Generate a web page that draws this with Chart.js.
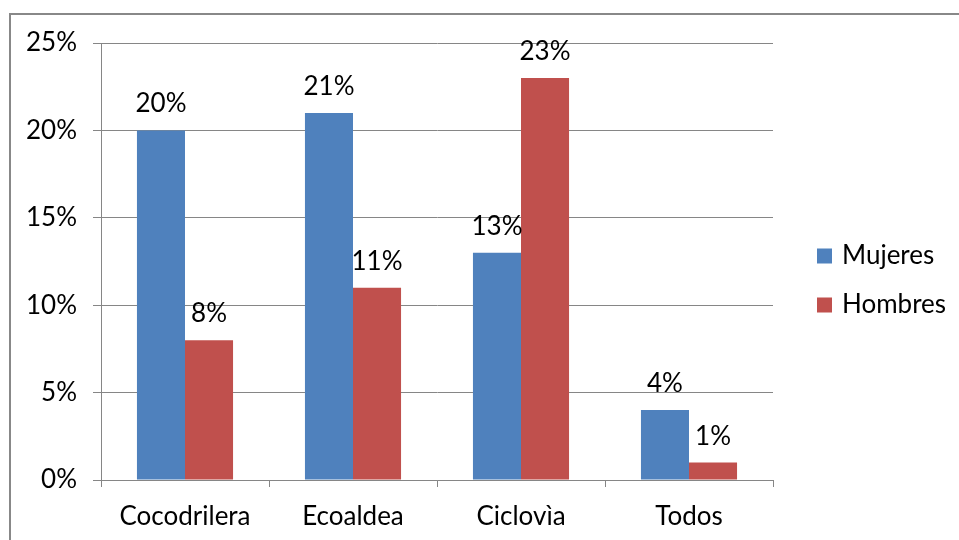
<!DOCTYPE html>
<html>
<head>
<meta charset="utf-8">
<script src="https://cdn.jsdelivr.net/npm/chart.js@4.4.1/dist/chart.umd.min.js"></script>
<style>
  html, body { margin: 0; padding: 0; background: #fff; }
  #wrap { position: relative; width: 959px; height: 540px; overflow: hidden; }
  #frame {
    position: absolute; left: 9px; top: 13px; width: 1000px; height: 600px;
    border-top: 2px solid #888; border-left: 2px solid #888;
  }
  canvas { position: absolute; left: 0; top: 0; }
</style>
</head>
<body>
<div id="wrap">
  <div id="frame"></div>
  <canvas id="chart" width="959" height="540"></canvas>
</div>
<script>
/* ===================== DATA ===================== */
const categories = ["Cocodrilera", "Ecoaldea", "Ciclovìa", "Todos"];
const mujeres = [20, 21, 13, 4];
const hombres = [8, 11, 23, 1];
const yTicks = [0, 5, 10, 15, 20, 25];

const FONT = "Lato";
const FONT_SIZE = 26;
const GRID = "#868686";

/* ===================== PLUGINS ===================== */
// value labels above every bar
const barLabels = {
  id: "barLabels",
  afterDatasetsDraw(chart) {
    const ctx = chart.ctx;
    ctx.save();
    ctx.font = FONT_SIZE + "px " + FONT;
    ctx.fillStyle = "#000";
    ctx.textAlign = "center";
    ctx.textBaseline = "alphabetic";
    chart.data.datasets.forEach((ds, i) => {
      chart.getDatasetMeta(i).data.forEach((bar, j) => {
        ctx.fillText(ds.data[j] + "%", bar.x, bar.y - 18);
      });
    });
    ctx.restore();
  }
};

// legend on the right, Excel style
const sideLegend = {
  id: "sideLegend",
  afterDraw(chart) {
    const ctx = chart.ctx;
    const area = chart.chartArea;
    const x = area.right + 44;
    let y = (area.top + area.bottom) / 2 - 6;
    ctx.save();
    ctx.font = FONT_SIZE + "px " + FONT;
    ctx.textBaseline = "middle";
    chart.data.datasets.forEach(ds => {
      ctx.fillStyle = ds.backgroundColor;
      ctx.fillRect(x, y - 7, 15, 15);
      ctx.fillStyle = "#000";
      ctx.fillText(ds.label, x + 25, y);
      y += 49;
    });
    ctx.restore();
  }
};

/* ===================== CHART ===================== */
new Chart(document.getElementById("chart"), {
  type: "bar",
  data: {
    labels: categories,
    datasets: [
      { label: "Mujeres", data: mujeres, backgroundColor: "#4F81BD" },
      { label: "Hombres", data: hombres, backgroundColor: "#C0504D" }
    ]
  },
  options: {
    responsive: false,
    animation: false,
    layout: { padding: { left: 10, top: 43, right: 186, bottom: 0 } },
    categoryPercentage: 0.572,
    barPercentage: 1,
    plugins: {
      legend: { display: false },
      tooltip: { enabled: false }
    },
    scales: {
      x: {
        grid: { drawOnChartArea: false, color: GRID, tickLength: 7, offset: true },
        border: { color: GRID },
        ticks: { color: "#000", font: { family: FONT, size: FONT_SIZE }, padding: 14 },
        afterFit(scale) { scale.height = 60; }
      },
      y: {
        min: 0,
        max: 25,
        afterBuildTicks(scale) { scale.ticks = yTicks.map(v => ({ value: v })); },
        grid: { color: GRID, tickLength: 8 },
        border: { color: GRID },
        ticks: {
          color: "#000",
          font: { family: FONT, size: FONT_SIZE },
          padding: 16,
          callback: v => v + "%"
        },
        afterFit(scale) { scale.width = 91; }
      }
    }
  },
  plugins: [barLabels, sideLegend]
});
</script>
</body>
</html>
